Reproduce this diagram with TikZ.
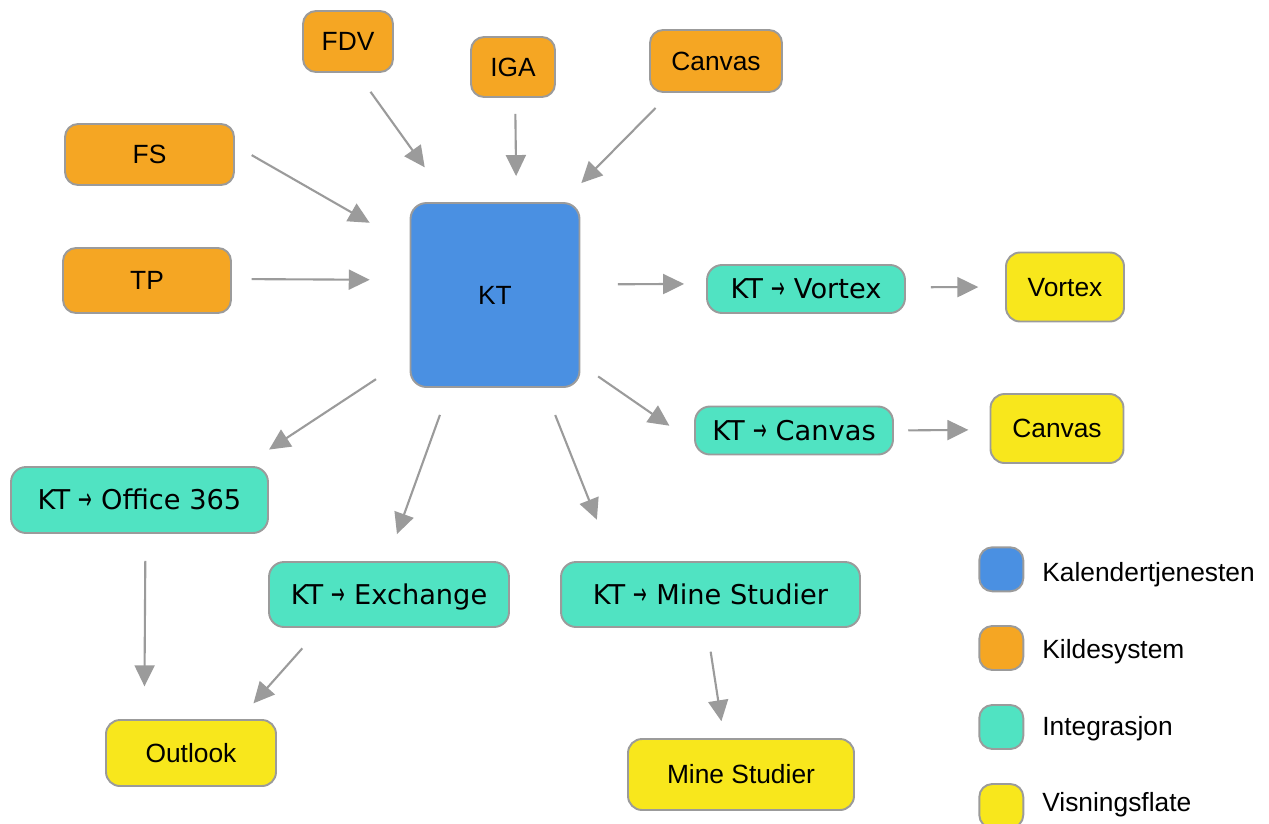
\documentclass[tikz,border=0pt]{standalone}
\usepackage{fontspec}
\setmainfont{Liberation Sans}
\newfontfamily\intfont{DejaVu Sans}
\usepackage{graphicx}
\usetikzlibrary{arrows.meta}
\definecolor{ktBlue}{HTML}{4A90E2}
\definecolor{srcOrange}{HTML}{F5A623}
\definecolor{intTeal}{HTML}{50E3C2}
\definecolor{viewYellow}{HTML}{F8E71C}
\definecolor{lineGray}{HTML}{9B9B9B}
\newcommand{\ktto}[1]{KT \scalebox{.6}[1.1]{→} #1}

\begin{document}
\begin{tikzpicture}[%
	x=0.02cm, y=-0.02cm,
	every node/.style={
		font=\fontsize{15}{18}\selectfont,
		inner sep=0pt,
		text height=10.7pt,
		text depth=0pt,
	},
	anybox/.style={draw=lineGray, line width=1.1pt, rounded corners=0.26cm},
	srcbox/.style={anybox, fill=srcOrange},
	corebox/.style={anybox, fill=ktBlue, rounded corners=0.32cm},
	intbox/.style={anybox, fill=intTeal, rounded corners=0.3cm,
		font=\intfont\fontsize{15.5}{18}\selectfont, text height=11.3pt},
	viewbox/.style={anybox, fill=viewYellow, rounded corners=0.28cm},
	legbox/.style={anybox, minimum size=0.88cm, rounded corners=0.26cm},
	flowarrow/.style={draw=lineGray, line width=1.2pt,
		-{Triangle[length=0.42cm,width=0.4cm]}},
	]
	\useasboundingbox (0,0) rectangle (1269,823);
	
	% source systems
	\node[srcbox, minimum width=1.8cm, minimum height=1.22cm] (fdv) at (348,41.5) {FDV};
	\node[srcbox, minimum width=1.68cm, minimum height=1.2cm] (iga) at (513,67) {IGA};
	\node[srcbox, minimum width=2.64cm, minimum height=1.24cm] (canvasin) at (716,61) {Canvas};
	\node[srcbox, minimum width=3.38cm, minimum height=1.22cm] (fs) at (149.5,154.5) {FS};
	\node[srcbox, minimum width=3.36cm, minimum height=1.3cm] (tp) at (147,280.5) {TP};
	
	% calendar service
	\node[corebox, minimum width=3.38cm, minimum height=3.68cm] (kt) at (495,295) {KT};
	
	% integrations
	\node[intbox, minimum width=3.96cm, minimum height=0.96cm] (ktvortex) at (806,289) {\ktto{Vortex}};
	\node[intbox, minimum width=3.96cm, minimum height=0.96cm] (ktcanvas) at (794,430.5) {\ktto{Canvas}};
	\node[intbox, minimum width=5.14cm, minimum height=1.32cm] (ktoffice) at (139.5,500) {\ktto{Office 365}};
	\node[intbox, minimum width=4.8cm, minimum height=1.3cm] (ktexchange) at (389,594.5) {\ktto{Exchange}};
	\node[intbox, minimum width=5.98cm, minimum height=1.3cm] (ktmine) at (710.5,594.5) {\ktto{Mine Studier}};
	
	% display surfaces
	\node[viewbox, minimum width=2.36cm, minimum height=1.38cm] (vortex) at (1065,287) {Vortex};
	\node[viewbox, minimum width=2.66cm, minimum height=1.38cm] (canvasout) at (1057,428.5) {Canvas};
	\node[viewbox, minimum width=3.4cm, minimum height=1.32cm] (outlook) at (191,753) {Outlook};
	\node[viewbox, minimum width=4.52cm, minimum height=1.42cm] (mine) at (741,774.5) {Mine Studier};
	
	% arrows into KT
	\draw[flowarrow, shorten <=0.464cm, shorten >=0.855cm] (fdv.-74.1) -- (kt.116.8);
	\draw[flowarrow, shorten <=0.32cm, shorten >=0.52cm] (iga.-86.2) -- (kt.77.7);
	\draw[flowarrow, shorten <=0.42cm, shorten >=0.534cm] (canvasin.-145.6) -- (kt.54.2);
	\draw[flowarrow, shorten <=0.386cm, shorten >=0.92cm] (fs.6.8) -- (kt.150);
	\draw[flowarrow, shorten <=0.394cm, shorten >=0.796cm] (tp.1.8) -- (kt.170.9);
	
	% arrows out of KT
	\draw[flowarrow, shorten <=0.75cm, shorten >=0.44cm] (kt.7.1) -- (ktvortex.177.4);
	\draw[flowarrow, shorten <=0.43cm, shorten >=0.6cm] (kt.-39.8) -- (ktcanvas.187);
	\draw[flowarrow, shorten <=0.804cm, shorten >=0.6cm] (kt.-144.4) -- (ktoffice.18.6);
	\draw[flowarrow, shorten <=0.573cm, shorten >=0.573cm] (kt.-116.2) -- (ktexchange.93.5);
	\draw[flowarrow, shorten <=0.583cm, shorten >=0.89cm] (kt.-62) -- (ktmine.161.2);
	
	% arrows to display surfaces
	\draw[flowarrow, shorten <=0.5cm, shorten >=0.534cm] (ktvortex.1) -- (vortex.180);
	\draw[flowarrow, shorten <=0.286cm, shorten >=0.424cm] (ktcanvas.0) -- (canvasout.181.9);
	\draw[flowarrow, shorten <=0.54cm, shorten >=0.654cm] (ktoffice.-80) -- (outlook.144.2);
	\draw[flowarrow, shorten <=0.545cm, shorten >=0.42cm] (ktexchange.-154.5) -- (outlook.35.2);
	\draw[flowarrow, shorten <=0.48cm, shorten >=0.34cm] (ktmine.-96) -- (mine.115.2);
	
	% legend
	\node[legbox, fill=ktBlue] (legkt) at (1001.3,569.3) {};
	\node[legbox, fill=srcOrange] (legsrc) at (1001.3,648) {};
	\node[legbox, fill=intTeal] (legint) at (1001.3,727) {};
	\node[legbox, fill=viewYellow] (legview) at (1001.3,806) {};
	\node[anchor=base west] (legkttext) at (1042,581.5) {Kalendertjenesten};
	\node[anchor=base west] (legsrctext) at (1042,658.5) {Kildesystem};
	\node[anchor=base west] (leginttext) at (1042,735) {Integrasjon};
	\node[anchor=base west] (legviewtext) at (1042,811.5) {Visningsflate};
\end{tikzpicture}
\end{document}
